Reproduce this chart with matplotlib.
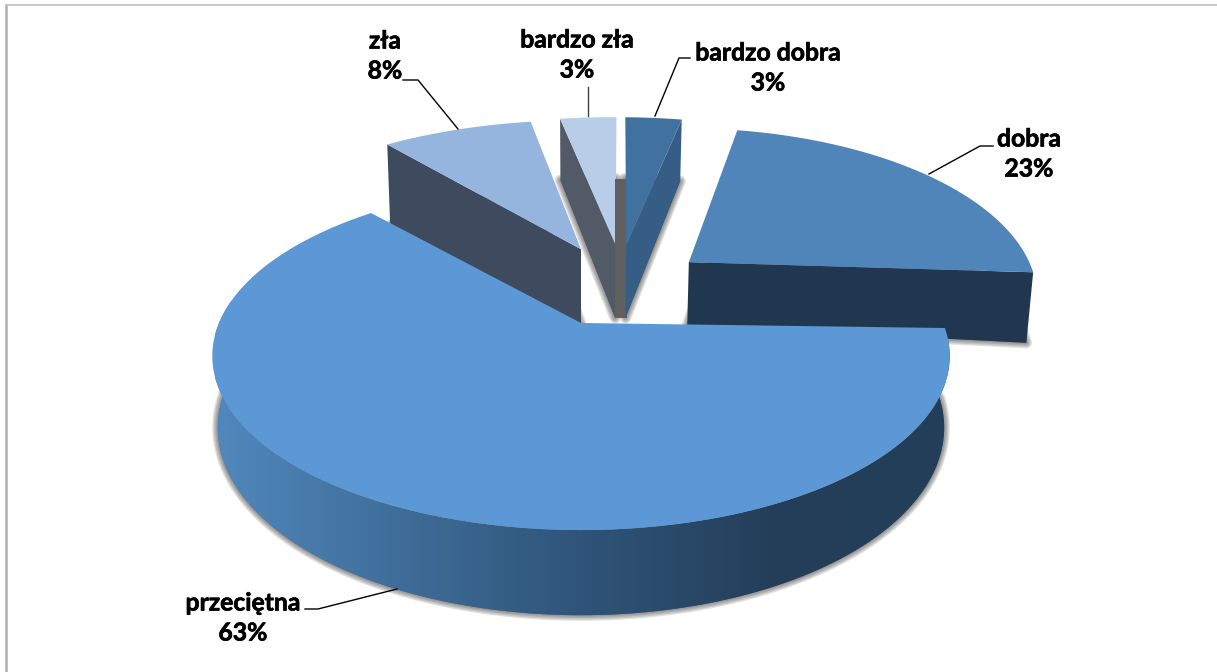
import numpy as np
import matplotlib
matplotlib.use('Agg')
import matplotlib.pyplot as plt
import matplotlib.patheffects as pe
from matplotlib.colors import LinearSegmentedColormap
from matplotlib.patches import Polygon

categories = ['bardzo dobra', 'dobra', 'przeciętna', 'zła', 'bardzo zła']
values = [3, 23, 63, 8, 3]

# look of each slice
top_colors = ['#41719f', '#4f85b9', '#5b98d5', '#95b5de', '#b9cde8']
wall_colors = ['#355d85', '#20374f', '#233e58', '#3e4b5e', '#515a66']
# explode offset on the disc (x, y), radius factors, turn in degrees, wall height
explode = [(0.137, 0.51), (0.32, 0.39), (0.0, 0.0), (0.0, 0.48), (0.105, 0.51)]
radius_x = [1.08, 1.01, 1.0, 1.08, 1.08]
radius_y = [1.09, 1.10, 1.0, 1.09, 1.09]
turn = [1.2, 0.0, -1.9, 1.2, 1.2]
lean = [0, 0.04, 0, 0, 0]
heights = [80, 68, 69, 82, 80]
taper = [0, 0.10, 0, -0.35, 0]

# perspective of the disc, in pixels
cx, cy = 581, 323
a, b, k = 362, 167.7, 0.19
shrink = 0.985

label_pos = [(768, 68), (1029, 154), (243, 618), (385, 56), (577, 55)]
leaders = [[(655, 116), (679, 58), (690, 58)],
           [(929, 174), (980, 146), (993, 146)],
           [(397, 589), (318, 609), (305, 609)],
           [(458, 129), (418, 80), (403, 80)],
           [(588, 116), (588, 87)]]


def project(x, y):
    s = 1 / (1 + k * y)
    return cx + a * x * s, cy - b * y * s, s


def bottom(x, y, h):
    px, py, s = project(x, y)
    return cx + (px - cx) * shrink, py + h * s


def slice_points(i, start, end):
    # clockwise from twelve o'clock
    t = np.radians(np.linspace(start, end, 160) + turn[i])
    ex, ey = explode[i]
    y = radius_y[i] * np.cos(t)
    return ex + radius_x[i] * np.sin(t) + lean[i] * y, ey + y, ex, ey


def soft_shadow(ax, pts, z):
    for w in [8, 6, 4, 2]:
        ax.add_patch(Polygon(pts, closed=True, facecolor='#404040', edgecolor='#404040',
                             lw=w, alpha=0.17, joinstyle='round', zorder=z))


fig = plt.figure(figsize=(12.17, 6.72), dpi=100)
ax = fig.add_axes([0, 0, 1, 1])
ax.set_xlim(0, 1217)
ax.set_ylim(672, 0)
ax.axis('off')

edges = np.cumsum([0] + values) * 3.6
order = [4, 0, 3, 1, 2]

# grey block seen between the two thin slices
xb4, yb4 = bottom(explode[4][0], explode[4][1], heights[4])
xb0, yb0 = bottom(explode[0][0], explode[0][1], heights[0])
_, far_y = bottom(explode[0][0], explode[0][1] + radius_y[0], heights[0])
ax.add_patch(Polygon([(xb4, far_y), (xb0 + 1, far_y), (xb0 + 1, yb0), (xb4, yb4)], closed=True,
                     facecolor='#606060', edgecolor='none', zorder=5.5))

for n, i in enumerate(order):
    z = 2 + n * 3
    x, y, ex, ey = slice_points(i, edges[i], edges[i + 1])
    px = np.r_[ex, x]
    py = np.r_[ey, y]
    h = heights[i] * (1 + taper[i] * (px - ex))

    top_x, top_y, _ = project(px, py)
    bot_x, bot_y = bottom(px, py, h)
    soft_shadow(ax, np.c_[bot_x, bot_y], z)

    if i == 2:
        # outer wall of the big slice, shaded from left to right
        rim_x = np.r_[top_x[1:], bot_x[1:][::-1]]
        rim_y = np.r_[top_y[1:], bot_y[1:][::-1]]
        clip = Polygon(np.c_[rim_x, rim_y], closed=True, facecolor='none', edgecolor='none',
                       transform=ax.transData)
        ax.add_patch(clip)
        cmap = LinearSegmentedColormap.from_list('wall', [
            (0.0, '#5088bd'), (0.25, '#3f6d99'), (0.5, '#2f5478'),
            (0.75, '#253f5b'), (1.0, '#233e58')])
        im = ax.imshow(np.linspace(0, 1, 256).reshape(1, -1), cmap=cmap, aspect='auto',
                       extent=(215, 950, 660, 300), zorder=z + 1)
        im.set_clip_path(clip)
        ax.set_xlim(0, 1217)
        ax.set_ylim(672, 0)
    else:
        # cut face: the right hand one for the two right slices, else the left hand one
        e = -1 if i in (0, 1) else 1
        ax.add_patch(Polygon([(top_x[0], top_y[0]), (top_x[e], top_y[e]),
                              (bot_x[e], bot_y[e]), (bot_x[0], bot_y[0])], closed=True,
                             facecolor=wall_colors[i], edgecolor='none', zorder=z + 1))

    ax.add_patch(Polygon(np.c_[top_x, top_y], closed=True, facecolor=top_colors[i],
                         edgecolor='none', zorder=z + 2))

# labels and leader lines
for i, name in enumerate(categories):
    ax.text(label_pos[i][0], label_pos[i][1], f'{name}\n{values[i]}%', ha='center', va='center',
            fontsize=17.8, fontweight='bold', family='Lato', color='black',
            linespacing=1.37, zorder=30,
            path_effects=[pe.withStroke(linewidth=0.5, foreground='black')])
    lx, ly = zip(*leaders[i])
    ax.plot(lx, ly, color='black' if i != 4 else '#404040', lw=1.0, zorder=29)

# frame of the original picture, only top and left show
ax.plot([6, 6], [5, 672], color='#b0b0b0', lw=1.8, zorder=31)
ax.plot([6, 1217], [5, 5], color='#c0c0c0', lw=1.2, zorder=31)

fig.savefig('out.png', dpi=100)
